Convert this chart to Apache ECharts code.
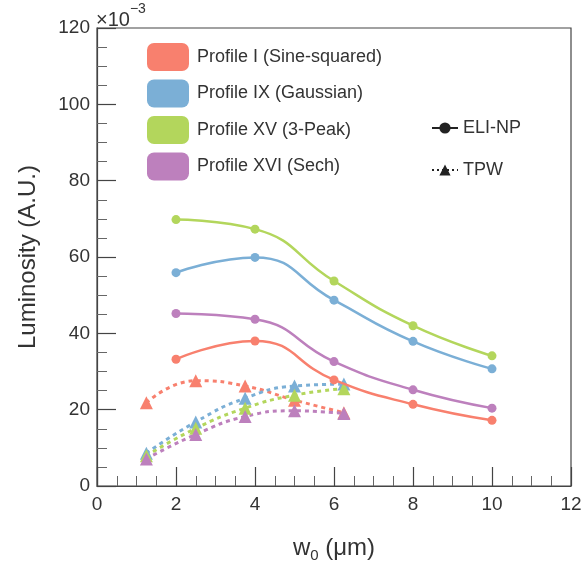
<!DOCTYPE html>
<html>
<head>
<meta charset="utf-8">
<script src="https://cdn.jsdelivr.net/npm/echarts@6/dist/echarts.min.js"></script>
<style>
  html, body { margin: 0; padding: 0; background: #fff; }
  #chart { width: 582px; height: 563px; }
</style>
</head>
<body>
<div id="chart"></div>
<script>
// ELI-NP beam waists (um) and TPW beam waists (um)
const eliW0 = [2, 4, 6, 8, 10]
const tpwW0 = [1.25, 2.5, 3.75, 5, 6.25]

const profileNames = [
  'Profile I (Sine-squared)',
  'Profile IX (Gaussian)',
  'Profile XV (3-Peak)',
  'Profile XVI (Sech)'
]
const profileColors = ['#f8806e', '#7bafd6', '#b3d65c', '#bd80bd']

// luminosity x1e-3
const eliProfileI = [33.2, 38.0, 27.8, 21.4, 17.2]
const eliProfileIX = [55.9, 59.9, 48.7, 37.9, 30.7]
const eliProfileXV = [69.8, 67.3, 53.7, 42.0, 34.1]
const eliProfileXVI = [45.2, 43.7, 32.6, 25.2, 20.4]

const tpwProfileI = [21.8, 27.6, 26.2, 22.5, 19.2]
const tpwProfileIX = [8.6, 16.8, 23.0, 26.2, 26.7]
const tpwProfileXV = [7.9, 15.1, 20.4, 23.8, 25.5]
const tpwProfileXVI = [7.1, 13.5, 18.2, 19.7, 19.0]

const eliData = [eliProfileI, eliProfileIX, eliProfileXV, eliProfileXVI]
const tpwData = [tpwProfileI, tpwProfileIX, tpwProfileXV, tpwProfileXVI]

const xTicks = [0, 2, 4, 6, 8, 10, 12]
const yTicks = [0, 20, 40, 60, 80, 100, 120]

const chart = echarts.init(document.getElementById('chart'))

const pairs = (xs, ys) => xs.map((x, i) => [x, ys[i]])

const series = []
profileNames.forEach((name, i) => {
  series.push({
    name: name,
    type: 'line',
    smooth: 0.5,
    symbol: 'circle',
    symbolSize: 9,
    itemStyle: { color: profileColors[i] },
    lineStyle: { width: 2.5, color: profileColors[i] },
    z: 3,
    data: pairs(eliW0, eliData[i])
  })
})
profileNames.forEach((name, i) => {
  series.push({
    name: name,
    type: 'line',
    smooth: 0.5,
    symbol: 'triangle',
    symbolSize: 13,
    itemStyle: { color: profileColors[i] },
    lineStyle: { width: 3, color: profileColors[i], type: [4, 4] },
    z: 2,
    data: pairs(tpwW0, tpwData[i])
  })
})
// legend only entries for the facilities
series.push({
  name: 'ELI-NP', type: 'line', symbol: 'circle', symbolSize: 8,
  itemStyle: { color: '#222' }, lineStyle: { width: 2, color: '#222' }, data: []
})
series.push({
  name: 'TPW', type: 'line', symbol: 'triangle', symbolSize: 11,
  itemStyle: { color: '#222' }, lineStyle: { width: 2, color: '#222', type: [2, 3] }, data: []
})

const option = {
  animation: false,
  backgroundColor: '#fff',
  textStyle: { fontFamily: 'Liberation Sans, Arial, sans-serif' },
  grid: {
    left: 97, right: 11, top: 28, bottom: 77,
    outerBoundsMode: 'none',
    containLabel: false,
    show: true, borderColor: '#444', borderWidth: 1.2
  },
  legend: [
    {
      data: profileNames,
      orient: 'vertical',
      left: 142, top: 38,
      icon: 'roundRect',
      itemWidth: 42, itemHeight: 28, itemGap: 8.5,
      textStyle: { fontSize: 18, color: '#333', padding: [0, 0, 0, 3] }
    },
    {
      data: ['ELI-NP', 'TPW'],
      orient: 'vertical',
      left: 426, top: 114,
      itemWidth: 26, itemHeight: 14, itemGap: 24,
      textStyle: { fontSize: 18, color: '#333' }
    }
  ],
  graphic: [
    {
      type: 'text', left: 96, top: 2,
      style: {
        text: '{a|×10}{b|−3}',
        rich: {
          a: { fontSize: 20, fill: '#333', fontFamily: 'Liberation Sans, Arial, sans-serif', padding: [8, 0, 0, 0] },
          b: { fontSize: 14, fill: '#333', fontFamily: 'Liberation Sans, Arial, sans-serif', verticalAlign: 'top' }
        }
      }
    }
  ],
  xAxis: {
    type: 'value',
    min: xTicks[0], max: xTicks[xTicks.length - 1], interval: 2,
    name: '{a|w}{b|0}{a| (μm)}',
    nameLocation: 'middle', nameGap: 48,
    nameTextStyle: {
      rich: {
        a: { fontSize: 24, color: '#333' },
        b: { fontSize: 15, color: '#333', padding: [14, 0, 0, 0] }
      }
    },
    axisLine: { onZero: false, lineStyle: { color: '#444', width: 1.2 } },
    axisTick: { inside: true, length: 19, lineStyle: { color: '#444', width: 1.2 } },
    minorTick: { show: true, splitNumber: 4, length: 10, lineStyle: { color: '#666', width: 1 } },
    splitLine: { show: false },
    axisLabel: { fontSize: 19, color: '#333', margin: 9 }
  },
  yAxis: {
    type: 'value',
    min: yTicks[0], max: yTicks[yTicks.length - 1], interval: 20,
    name: 'Luminosity (A.U.)',
    nameLocation: 'middle', nameGap: 57,
    nameTextStyle: { fontSize: 24, color: '#333' },
    axisLine: { onZero: false, lineStyle: { color: '#444', width: 1.2 } },
    axisTick: { inside: true, length: 19, lineStyle: { color: '#444', width: 1.2 } },
    minorTick: { show: true, splitNumber: 4, length: 10, lineStyle: { color: '#666', width: 1 } },
    splitLine: { show: false },
    axisLabel: { fontSize: 19, color: '#333', margin: 7 }
  },
  series: series
}

chart.setOption(option)
</script>
</body>
</html>
